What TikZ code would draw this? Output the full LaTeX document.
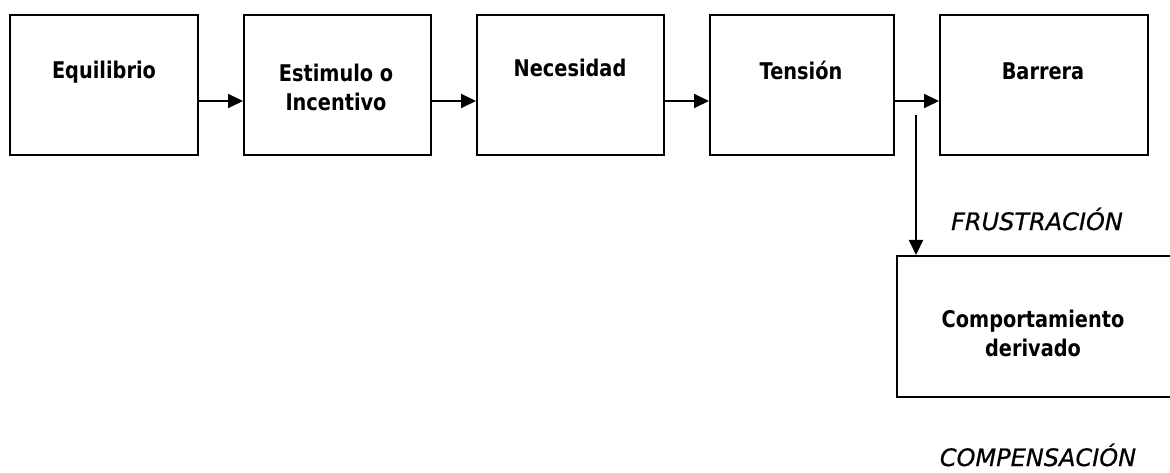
\documentclass[tikz,border=0pt]{standalone}
\usepackage{fontspec}
\setmainfont{DejaVu Sans}
\newfontfamily\boxfont[FakeStretch=0.84]{DejaVu Sans Bold}
\newfontfamily\lblfont[FakeBold=0.6]{DejaVu Sans Oblique}
\usetikzlibrary{arrows.meta}
\begin{document}
\begin{tikzpicture}[x=1pt,y=-1pt,
  boxshape/.style={draw=black,line width=2pt,minimum width=#1,minimum height=140pt,inner sep=0pt,anchor=north west},
  boxshape/.default=188pt,
  boxtxt/.style={font=\boxfont\fontsize{23}{28.5}\selectfont,anchor=base,align=center,inner sep=0pt},
  lbltxt/.style={font=\lblfont\fontsize{24}{28}\selectfont,anchor=base,inner sep=0pt},
  conn/.style={line width=2pt,-{Triangle[length=15pt,width=14pt]}}]
\useasboundingbox (0,0) rectangle (1170,473);
\node[boxshape=188pt] (b1) at (9,14) {};
\node[boxshape=187pt] (b2) at (243,14) {};
\node[boxshape=187pt] (b3) at (476,14) {};
\node[boxshape=184pt] (b4) at (709,14) {};
\node[boxshape=208pt] (b5) at (939,14) {};
\node[boxshape=290pt,minimum height=141pt] (b6) at (896,255) {};
\node[boxtxt] (t1) at (104,79) {Equilibrio};
\node[boxtxt,anchor=north] (t2) at (336,64) {Estimulo o\\Incentivo};
\node[boxtxt] (t3) at (570,77) {Necesidad};
\node[boxtxt] (t4) at (801,80) {Tensión};
\node[boxtxt] (t5) at (1043,80) {Barrera};
\node[boxtxt,anchor=north] (t6) at (1033,310) {Comportamiento\\derivado};
\node[lbltxt] (l1) at (1037,230) {FRUSTRACIÓN};
\node[lbltxt] (l2) at (1038,466) {COMPENSACIÓN};
\coordinate (vs) at (916,115);
\draw[conn] (b1.east |- 0,101) -- (b2.west |- 0,101);
\draw[conn] (b2.east |- 0,101) -- (b3.west |- 0,101);
\draw[conn] (b3.east |- 0,101) -- (b4.west |- 0,101);
\draw[conn] (b4.east |- 0,101) -- (b5.west |- 0,101);
\draw[conn] (vs) -- (vs |- b6.north);
\end{tikzpicture}
\end{document}
